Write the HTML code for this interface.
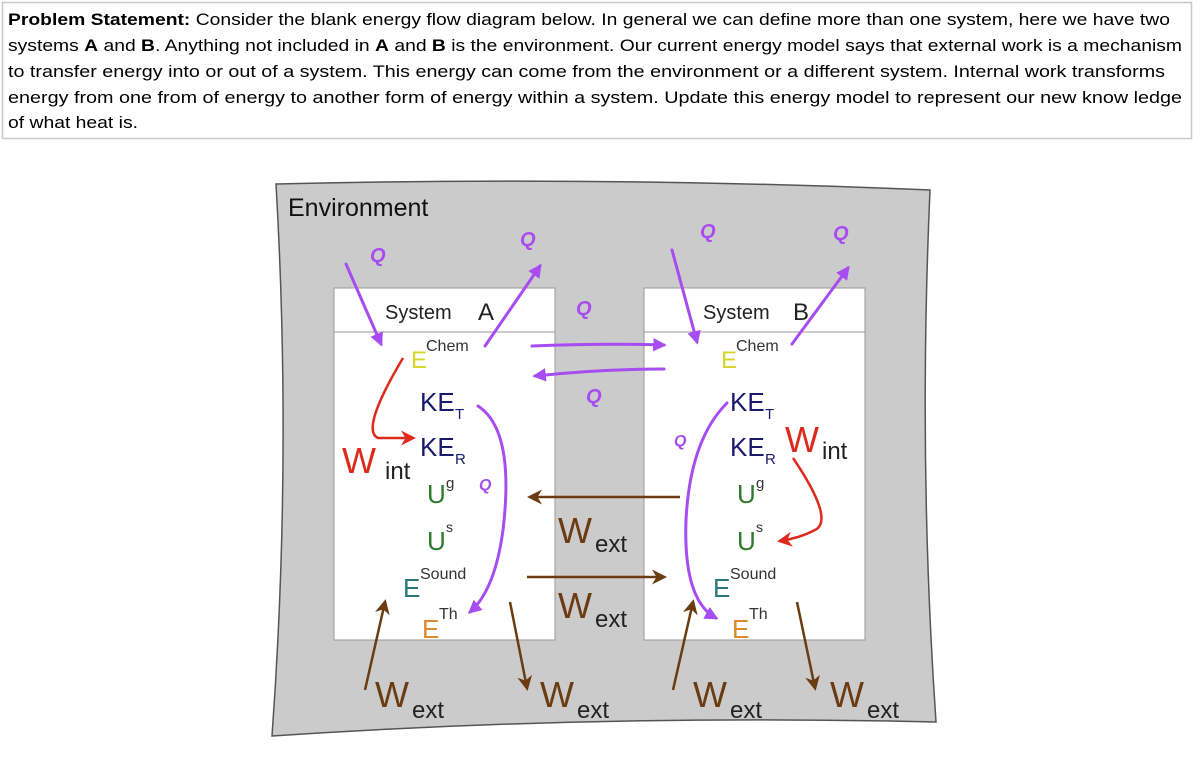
<!DOCTYPE html>
<html><head><meta charset="utf-8"><style>
html,body{margin:0;padding:0;background:#fff;}
svg{display:block;}
text{font-family:"Liberation Sans",sans-serif;}
</style></head><body>
<svg width="1200" height="782" viewBox="0 0 1200 782" xmlns="http://www.w3.org/2000/svg">
<defs>
<marker id="ap" viewBox="0 0 10 10" refX="8" refY="5" markerWidth="4.5" markerHeight="4.5" orient="auto"><path d="M0,0 L10,5 L0,10 z" fill="#a64cf0"/></marker>
<marker id="ab" viewBox="0 0 10 10" refX="8" refY="5" markerWidth="6" markerHeight="6" orient="auto"><path d="M0,0 L10,5 L0,10 L3,5 z" fill="#6b3b12"/></marker>
<marker id="ar" viewBox="0 0 10 10" refX="8" refY="5" markerWidth="6" markerHeight="6" orient="auto"><path d="M0,0 L10,5 L0,10 L3,5 z" fill="#dd2a1c"/></marker>
</defs>
<rect x="2.5" y="2.5" width="1189" height="136" fill="#fff" stroke="#c8c8c8" stroke-width="1.5"/>
<g font-size="16.5" fill="#000">
<text x="8" y="25" textLength="1162" lengthAdjust="spacingAndGlyphs"><tspan font-weight="bold">Problem Statement:</tspan>  Consider the blank energy flow diagram below.  In general we can define more than one system, here we have two</text>
<text x="8" y="51" textLength="1174" lengthAdjust="spacingAndGlyphs">systems <tspan font-weight="bold">A</tspan> and <tspan font-weight="bold">B</tspan>.  Anything not included in <tspan font-weight="bold">A</tspan> and <tspan font-weight="bold">B</tspan> is the environment.  Our current energy model says that external work is a mechanism</text>
<text x="8" y="77" textLength="1157" lengthAdjust="spacingAndGlyphs">to transfer energy into or out of a system.  This energy can come from the environment or a different system.  Internal work  transforms</text>
<text x="8" y="103" textLength="1174" lengthAdjust="spacingAndGlyphs">energy from one from of energy to another form of energy within a system.  Update this energy model to represent our new know ledge</text>
<text x="8" y="128" textLength="130" lengthAdjust="spacingAndGlyphs">of what heat is.</text>
</g>
<!-- environment -->
<path d="M276,184 Q600,176 930,190 Q918,460 936,722 Q600,714 272,736 Q292,460 276,184 z" fill="#cbcbcb" stroke="#555" stroke-width="1.5"/>
<text x="288" y="216" font-size="25" fill="#111">Environment</text>
<!-- systems -->
<rect x="334" y="288" width="221" height="352" fill="#fff" stroke="#999"/>
<line x1="334" y1="332" x2="555" y2="332" stroke="#999"/>
<rect x="644" y="288" width="221" height="352" fill="#fff" stroke="#999"/>
<line x1="644" y1="332" x2="865" y2="332" stroke="#999"/>
<g font-size="20" fill="#222">
<text x="385" y="319">System</text><text x="478" y="320" font-size="24">A</text>
<text x="703" y="319">System</text><text x="793" y="320" font-size="24">B</text>
</g>
<g id="forms">
<text x="411" y="368" font-size="24" fill="#d6d62a">E</text><text x="426" y="351" font-size="16" fill="#333">Chem</text>
<text x="420" y="411" font-size="26" fill="#1a1a6e">KE</text><text x="455" y="419" font-size="15" fill="#1a1a6e">T</text>
<text x="420" y="456" font-size="26" fill="#1a1a6e">KE</text><text x="455" y="464" font-size="15" fill="#1a1a6e">R</text>
<text x="427" y="503" font-size="26" fill="#2e7a2e">U</text><text x="446" y="488" font-size="15" fill="#333">g</text>
<text x="427" y="550" font-size="26" fill="#2e7a2e">U</text><text x="446" y="532" font-size="14" fill="#333">s</text>
<text x="403" y="597" font-size="26" fill="#2a7a7a">E</text><text x="420" y="579" font-size="16" fill="#333">Sound</text>
<text x="422" y="638" font-size="26" fill="#dd8a2a">E</text><text x="439" y="619" font-size="16" fill="#333">Th</text>
</g>
<g transform="translate(310,0)">
<text x="411" y="368" font-size="24" fill="#d6d62a">E</text><text x="426" y="351" font-size="16" fill="#333">Chem</text>
<text x="420" y="411" font-size="26" fill="#1a1a6e">KE</text><text x="455" y="419" font-size="15" fill="#1a1a6e">T</text>
<text x="420" y="456" font-size="26" fill="#1a1a6e">KE</text><text x="455" y="464" font-size="15" fill="#1a1a6e">R</text>
<text x="427" y="503" font-size="26" fill="#2e7a2e">U</text><text x="446" y="488" font-size="15" fill="#333">g</text>
<text x="427" y="550" font-size="26" fill="#2e7a2e">U</text><text x="446" y="532" font-size="14" fill="#333">s</text>
<text x="403" y="597" font-size="26" fill="#2a7a7a">E</text><text x="420" y="579" font-size="16" fill="#333">Sound</text>
<text x="422" y="638" font-size="26" fill="#dd8a2a">E</text><text x="439" y="619" font-size="16" fill="#333">Th</text>
</g>
<!-- Wint -->
<text x="342" y="473" font-size="36" fill="#dd2a1c">W</text><text x="385" y="479" font-size="24" fill="#222">int</text>
<text x="785" y="452" font-size="36" fill="#dd2a1c">W</text><text x="822" y="459" font-size="24" fill="#222">int</text>
<path d="M403,358 Q360,430 378,438 L413,438" fill="none" stroke="#dd2a1c" stroke-width="2.5" marker-end="url(#ar)"/>
<path d="M793,458 Q835,520 815,530 Q800,538 780,541" fill="none" stroke="#dd2a1c" stroke-width="2.5" marker-end="url(#ar)"/>
<!-- Wext labels -->
<g fill="#6b3b12">
<text x="558" y="543" font-size="36">W</text><text x="595" y="552" font-size="24" fill="#222">ext</text>
<text x="558" y="618" font-size="36">W</text><text x="595" y="627" font-size="24" fill="#222">ext</text>
<text x="375" y="707" font-size="36">W</text><text x="412" y="718" font-size="24" fill="#222">ext</text>
<text x="540" y="707" font-size="36">W</text><text x="577" y="718" font-size="24" fill="#222">ext</text>
<text x="693" y="707" font-size="36">W</text><text x="730" y="718" font-size="24" fill="#222">ext</text>
<text x="830" y="707" font-size="36">W</text><text x="867" y="718" font-size="24" fill="#222">ext</text>
</g>
<g stroke="#6b3b12" stroke-width="2.5" fill="none">
<line x1="365" y1="690" x2="385" y2="602" marker-end="url(#ab)"/>
<line x1="510" y1="602" x2="527" y2="688" marker-end="url(#ab)"/>
<line x1="680" y1="497" x2="530" y2="497" marker-end="url(#ab)"/>
<line x1="527" y1="577" x2="664" y2="577" marker-end="url(#ab)"/>
<line x1="673" y1="690" x2="693" y2="602" marker-end="url(#ab)"/>
<line x1="797" y1="602" x2="815" y2="688" marker-end="url(#ab)"/>
</g>
<!-- purple Q -->
<g stroke="#a64cf0" stroke-width="3" fill="none" stroke-linecap="round">
<line x1="346" y1="264" x2="381" y2="344" marker-end="url(#ap)"/>
<line x1="485" y1="346" x2="540" y2="266" marker-end="url(#ap)"/>
<line x1="672" y1="250" x2="697" y2="342" marker-end="url(#ap)"/>
<line x1="792" y1="344" x2="848" y2="268" marker-end="url(#ap)"/>
<path d="M532,346 Q600,343 664,345" marker-end="url(#ap)"/>
<path d="M664,369 Q600,369 535,376" marker-end="url(#ap)"/>
<path d="M478,406 Q515,430 503,530 Q495,590 470,612" marker-end="url(#ap)"/>
<path d="M727,403 Q690,440 686,520 Q683,600 716,618" marker-end="url(#ap)"/>
</g>
<g font-size="20" fill="#a64cf0" font-style="italic" font-weight="bold">
<text x="370" y="262">Q</text><text x="520" y="246">Q</text><text x="700" y="238">Q</text><text x="833" y="240">Q</text>
<text x="576" y="315">Q</text><text x="586" y="403">Q</text><text x="479" y="490" font-size="16">Q</text><text x="674" y="446" font-size="16">Q</text>
</g>
</svg>
</body></html>
